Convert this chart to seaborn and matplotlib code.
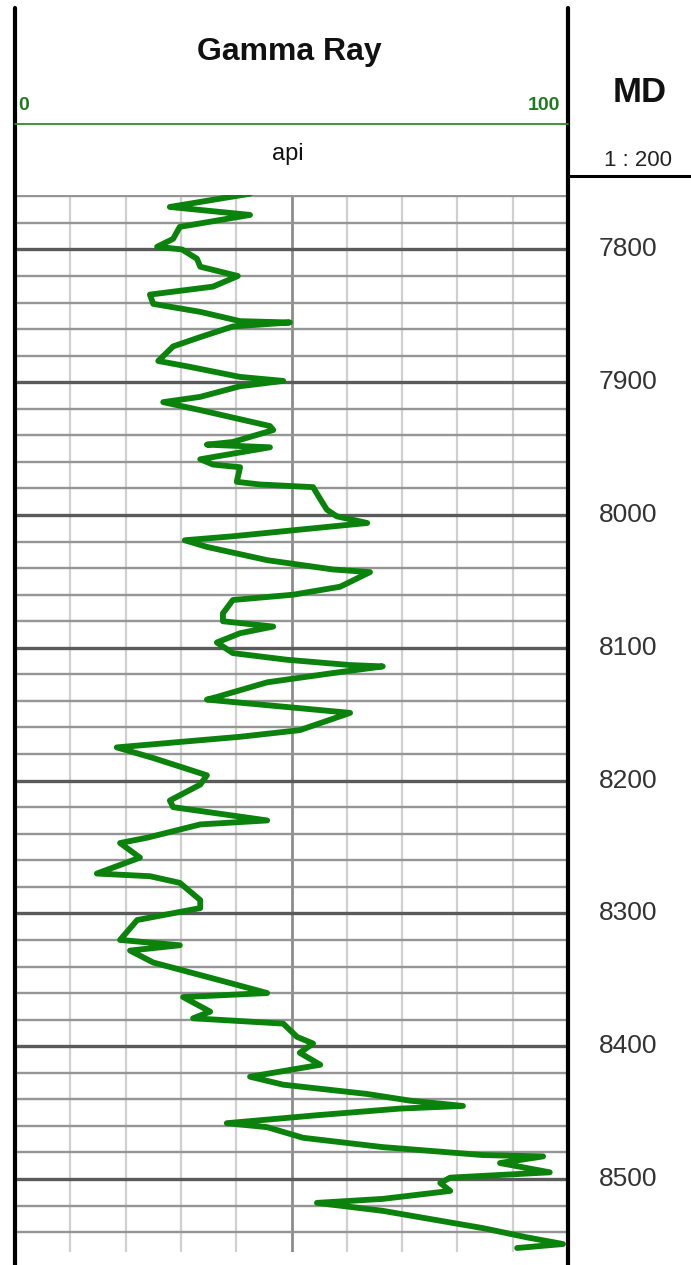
import pandas as pd
import seaborn as sns
import matplotlib.pyplot as plt
from matplotlib.lines import Line2D
from matplotlib.transforms import blended_transform_factory

depth = [7758, 7768, 7774, 7783, 7792, 7798, 7800, 7807, 7813, 7820,
         7828, 7834, 7841, 7847, 7854, 7855, 7858, 7866, 7873, 7884,
         7888, 7896, 7899, 7903, 7911, 7915, 7921, 7933, 7936, 7945,
         7947, 7949, 7958, 7962, 7964, 7975, 7977, 7979, 7988, 7996,
         8001, 8006, 8011, 8016, 8019, 8024, 8034, 8041, 8043, 8054,
         8060, 8064, 8074, 8080, 8084, 8089, 8096, 8104, 8109, 8113,
         8114, 8119, 8126, 8137, 8139, 8149, 8162, 8167, 8175, 8183,
         8196, 8203, 8215, 8220, 8230, 8233, 8243, 8247, 8258, 8270,
         8272, 8277, 8290, 8296, 8305, 8320, 8324, 8328, 8337, 8353,
         8360, 8363, 8374, 8379, 8383, 8393, 8398, 8405, 8414, 8423,
         8429, 8436, 8441, 8445, 8447, 8452, 8458, 8461, 8469, 8476,
         8482, 8483, 8488, 8495, 8499, 8503, 8509, 8515, 8518, 8524,
         8537, 8544, 8549, 8552]
gamma = [42.5, 28.0, 42.5, 29.8, 28.6, 25.7, 30.2, 32.9, 33.5, 40.3,
         35.8, 24.4, 25.0, 33.5, 40.7, 49.7, 39.4, 33.5, 28.6, 25.9,
         31.1, 40.7, 48.5, 40.7, 33.5, 26.8, 33.5, 46.1, 46.7, 39.4,
         34.7, 46.1, 33.5, 35.8, 40.7, 40.1, 44.3, 53.9, 55.2, 56.4,
         58.2, 63.7, 51.5, 39.4, 30.7, 34.7, 45.6, 57.5, 64.2, 58.8,
         50.3, 39.4, 37.6, 37.6, 46.7, 40.7, 36.5, 39.4, 49.2, 60.6,
         66.5, 57.5, 45.6, 36.5, 34.7, 60.6, 51.5, 40.7, 18.4, 25.0,
         34.7, 33.5, 28.0, 28.6, 45.6, 33.5, 23.9, 19.0, 22.6, 14.8,
         24.4, 29.8, 33.5, 33.5, 22.1, 19.0, 29.8, 20.8, 25.0, 39.4,
         45.6, 30.4, 35.3, 32.2, 48.5, 51.0, 53.9, 51.5, 55.2, 42.5,
         48.5, 63.7, 71.4, 81.0, 69.6, 54.6, 38.3, 45.6, 52.1, 66.5,
         84.6, 95.5, 87.7, 96.7, 78.7, 76.9, 78.7, 66.5, 54.6, 66.5,
         84.6, 92.6, 99.1, 90.8]
depth_labels = [7800, 7900, 8000, 8100, 8200, 8300, 8400, 8500]
scale_min, scale_max = 0, 100

df = pd.DataFrame({'MD': depth, 'GR': gamma})

sns.set_style('white')
plt.rcParams['font.family'] = ['Liberation Sans', 'DejaVu Sans']

W, H = 691, 1265
fig = plt.figure(figsize=(W / 100, H / 100), dpi=100)
ax = fig.add_axes([15 / W, 1 - 1252 / H, (568 - 15) / W, (1252 - 195) / H])

top, bottom = 7759, 8555

# grid: light verticals every 10 api, horizontals every 20 ft, heavy every 100 ft
for g in range(10, 100, 10):
    ax.axvline(g, color='#8c8c8c' if g == 50 else '#d0d0d0',
               lw=2.0 if g == 50 else 1.6, zorder=1)
for d in range(7760, bottom + 1, 20):
    major = d % 100 == 0
    ax.axhline(d, color='#5a5a5a' if major else '#959595',
               lw=2.4 if major else 1.7, zorder=2)

sns.lineplot(data=df, x='GR', y='MD', sort=False, estimator=None,
             color='#0b820b', lw=4.2, ax=ax, zorder=3)
ax.set_xlim(scale_min, scale_max)
ax.set_ylim(bottom, top)
ax.axis('off')

# track borders and header lines
def fx(px):
    return px / W

def fy(py):
    return 1 - py / H

fig.add_artist(Line2D([fx(15), fx(15)], [fy(8), fy(1265)], color='black', lw=3))
fig.add_artist(Line2D([fx(568), fx(568)], [fy(8), fy(1265)], color='black', lw=3))
fig.add_artist(Line2D([fx(15), fx(568)], [fy(124), fy(124)], color='#2e8b2e', lw=1.3))
fig.add_artist(Line2D([fx(568), fx(691)], [fy(176), fy(176)], color='black', lw=2.2))

fig.text(fx(289), fy(52), 'Gamma Ray', ha='center', va='center',
         fontsize=23, fontweight='bold', color='#111111')
fig.text(fx(18), fy(105), str(scale_min), ha='left', va='center',
         fontsize=14, color='#1f7a1f', fontweight='bold')
fig.text(fx(560), fy(105), str(scale_max), ha='right', va='center',
         fontsize=14, color='#1f7a1f', fontweight='bold')
fig.text(fx(288), fy(154), 'api', ha='center', va='center', fontsize=17, color='#111111')
fig.text(fx(640), fy(92), 'MD', ha='center', va='center',
         fontsize=25, fontweight='bold', color='#111111')
fig.text(fx(638), fy(160), '1 : 200', ha='center', va='center', fontsize=16, color='#222222')

trans = blended_transform_factory(fig.transFigure, ax.transData)
for d in depth_labels:
    ax.text(fx(628), d, str(d), transform=trans, ha='center', va='center',
            fontsize=19, color='#333333', clip_on=False)

fig.savefig('out.png', dpi=100)
